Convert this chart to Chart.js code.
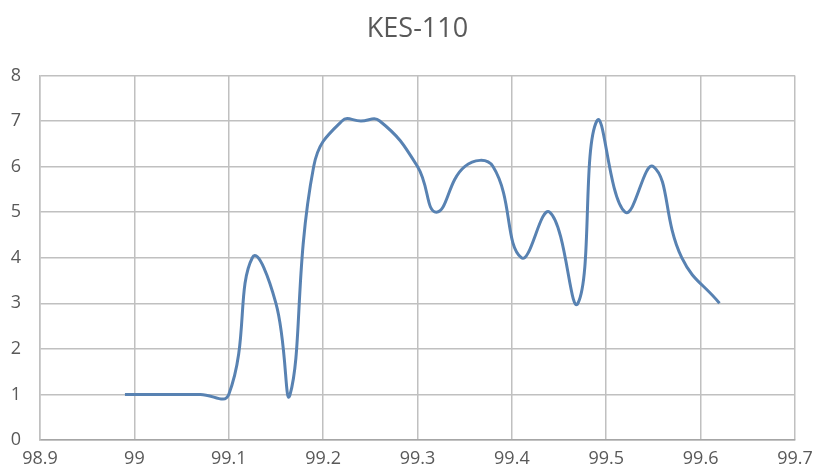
<!DOCTYPE html>
<html lang="en">
<head>
    <meta charset="UTF-8">
    <title>KES-110</title>
    <script src="https://cdn.jsdelivr.net/npm/chart.js"></script>
    <style>
        body {
            margin: 0;
            background: white;
            overflow: hidden;
        }

        #wrap {
            width: 816px;
            height: 476px;
        }
    </style>
</head>
<body>
<div id="wrap"><canvas id="kesChart"></canvas></div>

<script>
    const xValues = [98.99, 99.07, 99.1, 99.125, 99.15, 99.165, 99.19, 99.22, 99.24, 99.26,
        99.3, 99.32, 99.35, 99.38, 99.41, 99.44, 99.47, 99.49, 99.52, 99.55, 99.58, 99.62];
    const yValues = [1, 1, 1, 4, 3, 1, 6, 7, 7, 7,
        6, 5, 6, 6, 4, 5, 3, 7, 5, 6, 4, 3];

    const textColor = '#595959';
    const gridColor = '#c0c0c0';
    const fontFamily = "'Open Sans', 'Noto Sans', sans-serif";

    const points = xValues.map((x, i) => ({ x: x, y: yValues[i] }));

    const ctx = document.getElementById('kesChart').getContext('2d');

    const kesChart = new Chart(ctx, {
        type: 'scatter',
        data: {
            datasets: [{
                label: 'KES-110',
                data: points,
                showLine: true,
                borderColor: '#5882b2',
                borderWidth: 3,
                pointRadius: 0,
                tension: 0.45,
                fill: false
            }]
        },
        options: {
            responsive: true,
            maintainAspectRatio: false,
            animation: false,
            layout: {
                padding: { left: 0, right: 21, top: 0, bottom: 0 }
            },
            scales: {
                x: {
                    type: 'linear',
                    min: 98.9,
                    max: 99.7,
                    ticks: {
                        stepSize: 0.1,
                        color: textColor,
                        padding: 8,
                        font: { family: fontFamily, size: 18 },
                        callback: function(value) {
                            return parseFloat(value.toFixed(1)).toString();
                        }
                    },
                    grid: {
                        color: gridColor,
                        lineWidth: 1.5,
                        drawTicks: false
                    },
                    border: { color: '#a6a6a6', width: 1.5 },
                    afterFit: function(scale) {
                        scale.height = 36;
                        scale.paddingLeft = 0;
                        scale.paddingRight = 0;
                    }
                },
                y: {
                    min: 0,
                    max: 8,
                    ticks: {
                        stepSize: 1,
                        color: textColor,
                        padding: 19,
                        font: { family: fontFamily, size: 18 }
                    },
                    grid: {
                        color: gridColor,
                        lineWidth: 1.5,
                        drawTicks: false
                    },
                    border: { color: gridColor, width: 1.5 },
                    afterFit: function(scale) { scale.width = 40; }
                }
            },
            plugins: {
                legend: { display: false },
                tooltip: { enabled: false },
                title: {
                    display: true,
                    fullSize: false, // centre over the plot area, as in the original
                    text: 'KES-110',
                    color: textColor,
                    font: { family: fontFamily, size: 27, weight: 'normal' },
                    padding: { top: 13, bottom: 30 }
                }
            }
        }
    });
</script>

</body>
</html>
